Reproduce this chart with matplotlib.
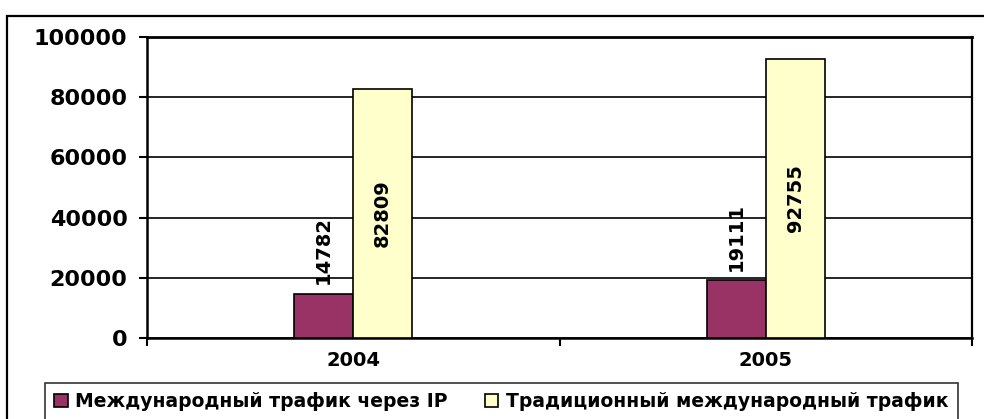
import matplotlib
matplotlib.use("Agg")
import matplotlib.pyplot as plt
from matplotlib.patches import Rectangle
import numpy as np

years = ["2004", "2005"]
ip_traffic = [14782, 19111]
trad_traffic = [82809, 92755]
series_names = ["Международный трафик через IP", "Традиционный международный трафик"]
y_ticks = [0, 20000, 40000, 60000, 80000, 100000]

plt.rcParams['font.family'] = ['DejaVu Sans']
plt.rcParams['font.weight'] = 'bold'

W, H = 984, 419
fig = plt.figure(figsize=(W / 100, H / 100), dpi=100)

# outer chart frame (runs off the right and bottom edges)
fig.patches.append(Rectangle((7 / W, -0.1), 1.2, 1.1 - 16 / H, transform=fig.transFigure,
                             fill=False, edgecolor='black', linewidth=1.6, zorder=0))

ax = fig.add_axes([147 / W, 1 - 338 / H, (972 - 147) / W, (338 - 37) / H])

x = np.arange(len(years))
w = 0.143
b1 = ax.bar(x - w / 2, ip_traffic, w, color='#993366', edgecolor='black', linewidth=1.2,
            label=series_names[0], zorder=3)
b2 = ax.bar(x + w / 2, trad_traffic, w, color='#FFFFCC', edgecolor='black', linewidth=1.2,
            label=series_names[1], zorder=3)

ax.bar_label(b1, labels=[str(v) for v in ip_traffic], rotation=90, padding=7,
             fontsize=14, fontweight='bold')
ax.bar_label(b2, labels=[str(v) for v in trad_traffic], rotation=90, label_type='center',
             fontsize=14, fontweight='bold')

ax.set_xlim(-0.5, len(years) - 0.5)
ax.set_ylim(0, 100000)
ax.set_yticks(y_ticks)
ax.set_yticklabels([str(t) for t in y_ticks], fontsize=16, fontweight='bold')
ax.yaxis.grid(True, color='black', linewidth=1.2, zorder=0)
ax.set_axisbelow(True)

ax.set_xticks(np.arange(len(years) + 1) - 0.5)
ax.set_xticklabels([])
ax.set_xticks(x, minor=True)
ax.set_xticklabels(years, minor=True, fontsize=14, fontweight='bold')
ax.tick_params(axis='x', which='minor', length=0, pad=9)
ax.tick_params(axis='both', which='major', direction='out', length=6, width=1.5,
               color='black')
ax.tick_params(axis='y', pad=8)

for side in ['left', 'bottom']:
    ax.spines[side].set_linewidth(1.8)
ax.spines['top'].set_linewidth(2)
ax.spines['right'].set_linewidth(1.6)

leg = fig.legend(handles=[b1, b2], loc='upper left', bbox_to_anchor=(45 / W, 1 - 383 / H),
                 ncol=2, frameon=True, fancybox=False, borderaxespad=0,
                 prop={'size': 13.5, 'weight': 'bold'}, handlelength=0.7,
                 handleheight=0.7, handletextpad=0.4, columnspacing=2.0,
                 borderpad=0.5)
leg.get_frame().set_edgecolor('black')
leg.get_frame().set_linewidth(1.2)

fig.savefig("out.png", dpi=100)
